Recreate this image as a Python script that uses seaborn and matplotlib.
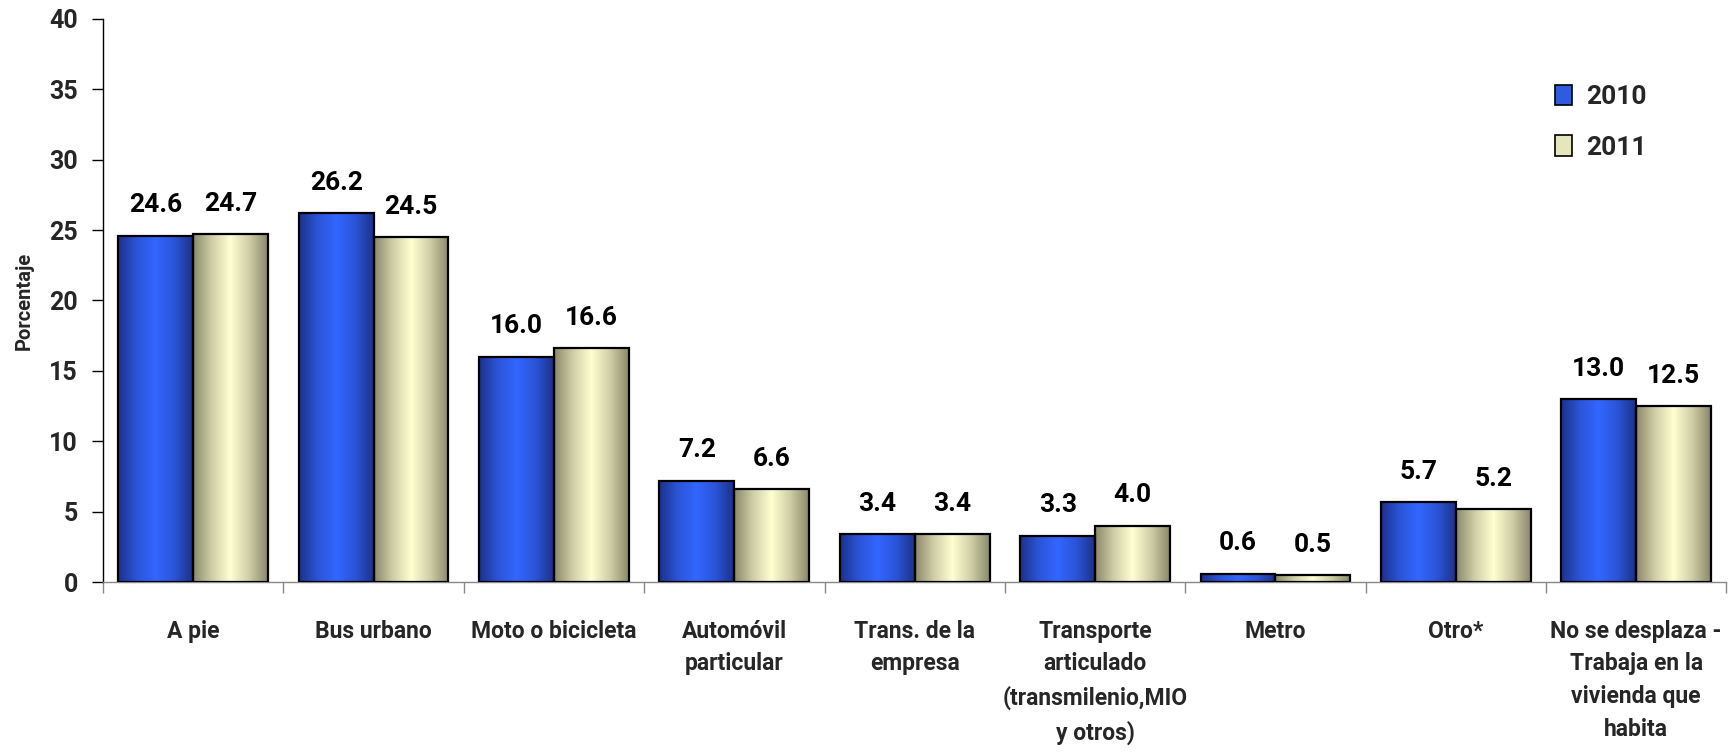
import numpy as np
import pandas as pd
import matplotlib
matplotlib.use("Agg")
import matplotlib.pyplot as plt
import seaborn as sns
from matplotlib.colors import LinearSegmentedColormap
from matplotlib.patches import Patch

categories = ["A pie", "Bus urbano", "Moto o bicicleta", "Automóvil\nparticular",
              "Trans. de la\nempresa", "Transporte\narticulado\n(transmilenio,MIO\ny otros)",
              "Metro", "Otro*", "No se desplaza -\nTrabaja en la\nvivienda que\nhabita"]
series_names = ["2010", "2011"]
values_2010 = [24.6, 26.2, 16.0, 7.2, 3.4, 3.3, 0.6, 5.7, 13.0]
values_2011 = [24.7, 24.5, 16.6, 6.6, 3.4, 4.0, 0.5, 5.2, 12.5]
y_ticks = [0, 5, 10, 15, 20, 25, 30, 35, 40]

sns.set_theme(style="white")
plt.rcParams['font.family'] = ['Roboto', 'DejaVu Sans']

df = pd.DataFrame({
    "cat": categories * 2,
    "year": [series_names[0]] * len(categories) + [series_names[1]] * len(categories),
    "val": values_2010 + values_2011,
})

fig = plt.figure(figsize=(17.35, 7.54), dpi=100)
ax = fig.add_axes([0.0594, 0.228, 0.9356, 0.747])

mid_colors = {"2010": "#2F5BE0", "2011": "#E6E6BC"}
sns.barplot(data=df, x="cat", y="val", hue="year", palette=mid_colors,
            width=0.83, gap=0, ax=ax, legend=False, saturation=1)

cmaps = {
    "2010": LinearSegmentedColormap.from_list("b", ["#1C318A", "#2B55D8", "#3366FF", "#2B55D8", "#1C318A"]),
    "2011": LinearSegmentedColormap.from_list("y", ["#8A886A", "#CFCEA6", "#FFFFD2", "#CFCEA6", "#8A886A"]),
}
grad = np.linspace(0, 1, 256).reshape(1, -1)

n = len(categories)
patches = ax.patches[:2 * n]
for i, p in enumerate(patches):
    yr = series_names[i // n]
    x0, y0 = p.get_x(), p.get_y()
    w, h = p.get_width(), p.get_height()
    p.set_facecolor("none")
    p.set_edgecolor("black")
    p.set_linewidth(1.6)
    p.set_zorder(3)
    im = ax.imshow(grad, cmap=cmaps[yr], aspect="auto",
                   extent=[x0, x0 + w, y0, y0 + h], zorder=2)
    im.set_clip_path(p)
    ax.text(x0 + w / 2, y0 + h + 1.3, f"{h:.1f}", ha="center", va="bottom",
            fontsize=19, fontweight="bold", color="black")

ax.set_xlim(-0.5, n - 0.5)
ax.set_ylim(0, 40)
ax.set_yticks(y_ticks)
ax.set_yticklabels([str(t) for t in y_ticks], fontsize=18, fontweight="bold")
ax.set_xticks(range(n))
ax.set_xticklabels(categories, fontsize=16.5, fontweight="bold", linespacing=1.54, va="top")
ax.tick_params(axis="x", length=0, pad=27)
ax.set_xticks(np.arange(-0.5, n, 1), minor=True)
ax.tick_params(axis="x", which="minor", length=8, color="#888888", width=1, direction="out", bottom=True)
ax.tick_params(axis="y", length=8, color="black", width=1, direction="out", left=True, pad=10)
ax.set_xlabel("")
ax.set_ylabel("Porcentaje", fontsize=14.5, fontweight="bold")
ax.yaxis.set_label_coords(-0.043, 0.5)

for s in ["top", "right"]:
    ax.spines[s].set_visible(False)
ax.spines["left"].set_color("black")
ax.spines["left"].set_linewidth(1)
ax.spines["bottom"].set_color("#888888")
ax.spines["bottom"].set_linewidth(1)

handles = [Patch(facecolor=mid_colors[s], edgecolor="black", linewidth=1.2) for s in series_names]
leg = ax.legend(handles, series_names, loc="upper left", bbox_to_anchor=(0.88, 0.925),
                frameon=False, prop={"size": 19, "weight": "bold"},
                handlelength=0.65, handleheight=0.8, labelspacing=1.0, handletextpad=0.5)

fig.savefig("out.png", dpi=100)
